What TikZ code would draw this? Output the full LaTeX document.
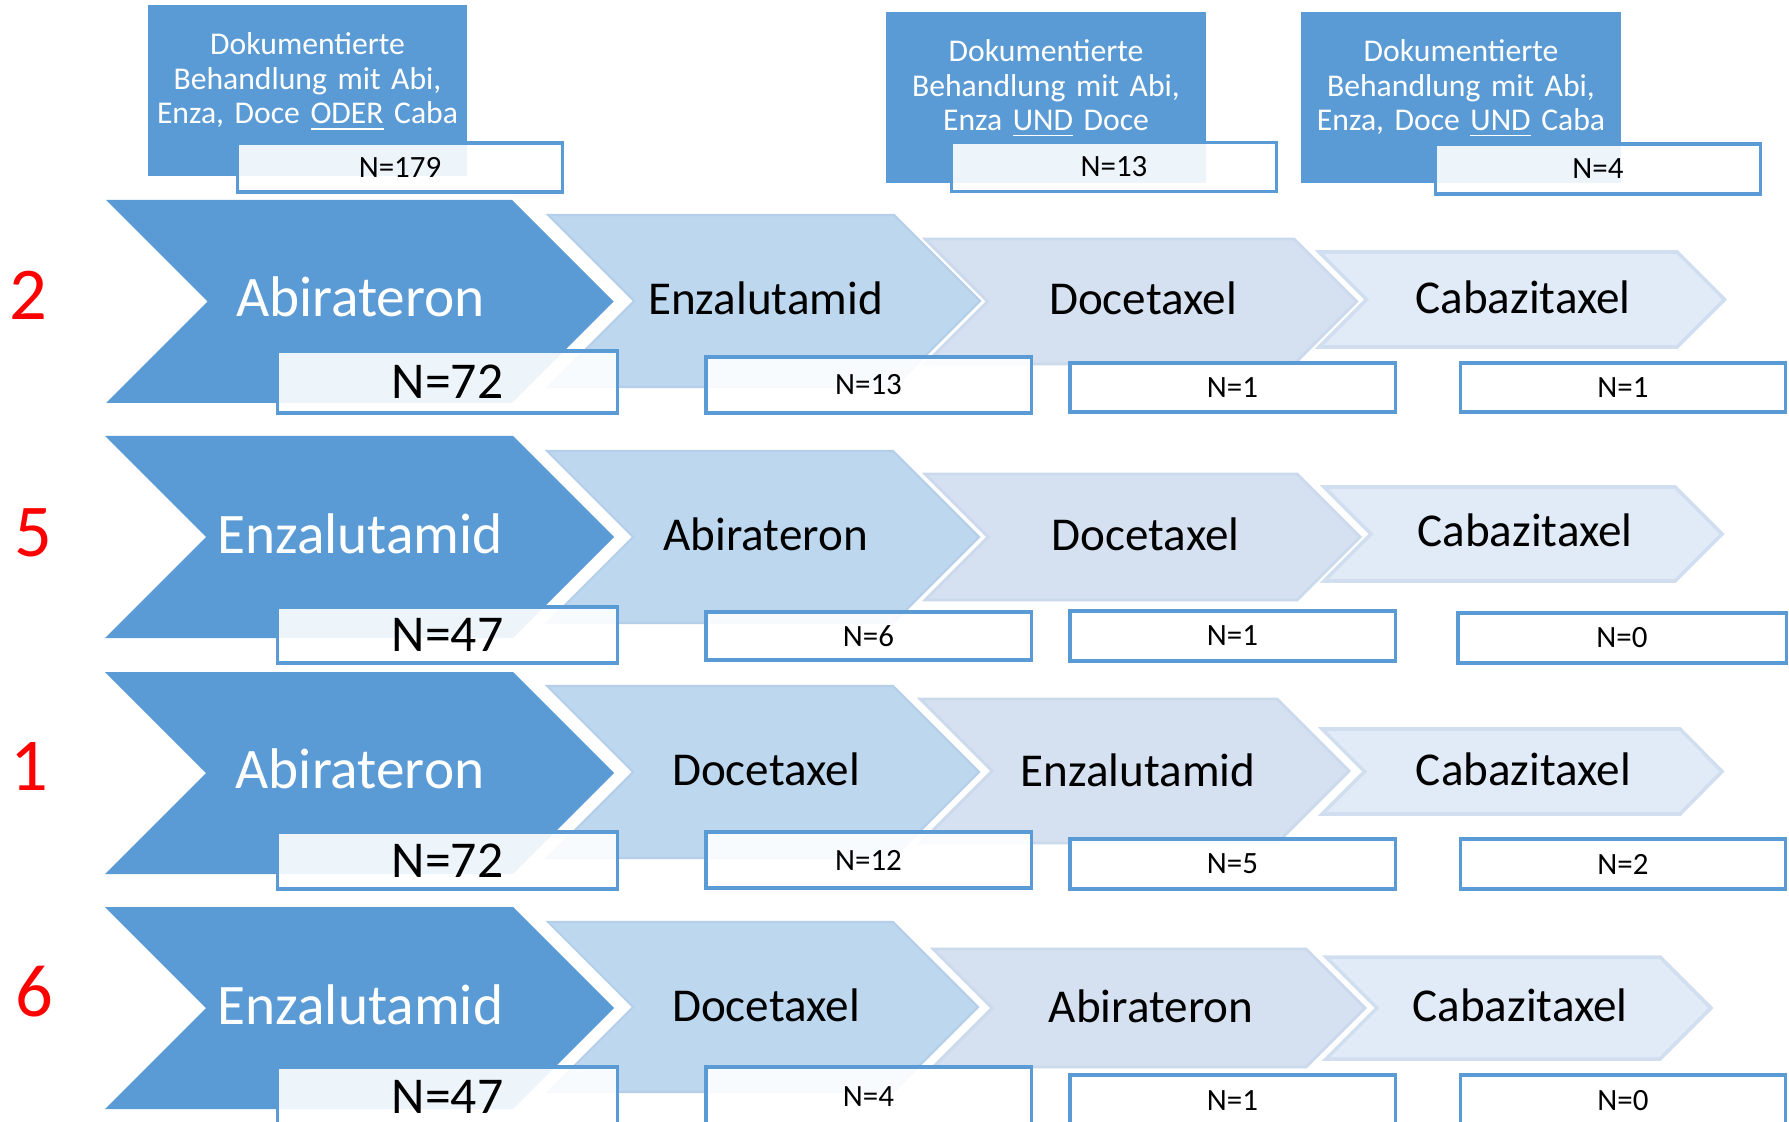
\documentclass[tikz,border=0pt]{standalone}
\usepackage{fontspec}
\setmainfont{Carlito}
\usepackage{xcolor}
\definecolor{dunkel}{HTML}{5B9BD5}
\definecolor{hellA}{HTML}{BDD7EE}
\definecolor{hellB}{HTML}{D5E1F0}
\definecolor{hellC}{HTML}{E1EBF7}
\definecolor{randA}{HTML}{B5CFEA}
\definecolor{randB}{HTML}{CBD9EC}
\definecolor{randC}{HTML}{D0DEF0}

\begin{document}
\begin{tikzpicture}[x=0.01cm,y=-0.01cm,
    chevA/.style={fill=dunkel},
    chevB/.style={fill=hellA,draw=randA,line width=0.6pt},
    chevC/.style={fill=hellB,draw=randB,line width=0.8pt},
    chevD/.style={fill=hellC,draw=randC,line width=1pt},
    ersttxt/.style={anchor=base,inner sep=0pt,text=white,font=\fontsize{16.3}{19}\selectfont},
    folgetxt/.style={anchor=base,inner sep=0pt,text=black,font=\fontsize{13.4}{16}\selectfont},
    nbox/.style={draw=dunkel,line width=0.9pt,fill=white,fill opacity=0.9,text opacity=1,inner sep=0pt},
    nbig/.style={nbox,minimum width=3.39cm,font=\fontsize{14.7}{17}\selectfont},
    nsmall/.style={nbox,minimum width=3.25cm,font=\fontsize{8.8}{10}\selectfont},
    infobox/.style={fill=dunkel,minimum width=3.19cm,minimum height=1.71cm,inner sep=0pt},
    infotxt/.style={anchor=base,inner sep=0pt,text=white,text width=3.19cm,align=center,font=\fontsize{9}{9.8}\selectfont},
    nummer/.style={anchor=base,inner sep=0pt,text=red,font=\fontsize{21.2}{24}\selectfont}]

    \useasboundingbox (0,0) rectangle (1789,1122);
    \clip (0,0) rectangle (1789,1122);

    % 上方的说明框
    \node[infobox] (info1) at (307.5,90.5) {};
    \node[infobox] (info2) at (1046,97.5) {};
    \node[infobox] (info3) at (1461,97.5) {};
    \node[infotxt] (info1t) at (307.5,55) {Dokumentierte\\Behandlung mit Abi,\\Enza, Doce \underline{ODER} Caba};
    \node[infotxt] (info2t) at (1046,61.7) {Dokumentierte\\Behandlung mit Abi,\\Enza \underline{UND} Doce};
    \node[infotxt] (info3t) at (1461,61.7) {Dokumentierte\\Behandlung mit Abi,\\Enza, Doce \underline{UND} Caba};
    \node[nsmall,minimum height=0.49cm] (ntop1) at (400,167.5) {N=179};
    \node[nsmall,minimum height=0.49cm] (ntop2) at (1114,167) {N=13};
    \node[nsmall,minimum height=0.50cm] (ntop3) at (1598,169) {N=4};

    % 第一行
    \path[chevA] (106,200) -- (512,200) -- (613.5,301.5) -- (512,403) -- (106,403) -- (207.5,301.5) -- cycle;
    \path[chevB] (548,215) -- (894,215) -- (980,301) -- (894,387) -- (548,387) -- (634,301) -- cycle;
    \path[chevC] (925,239) -- (1294,239) -- (1356.5,301.5) -- (1294,364) -- (925,364) -- (987.5,301.5) -- cycle;
    \path[chevD] (1319,252) -- (1677,252) -- (1724.5,299.5) -- (1677,347) -- (1319,347) -- (1366.5,299.5) -- cycle;
    \node[nummer] (z1) at (28.8,320) {2};
    \node[ersttxt] (r1a) at (360.5,317) {Abirateron};
    \node[folgetxt] (r1b) at (765.5,315) {Enzalutamid};
    \node[folgetxt] (r1c) at (1143,315) {Docetaxel};
    \node[folgetxt] (r1d) at (1523,313.3) {Cabazitaxel};
    \node[nbig,minimum height=0.62cm] (n1a) at (447.5,382) {N=72};
    \node[nsmall,minimum height=0.56cm] (n1b) at (868.5,385) {N=13};
    \node[nsmall,minimum height=0.49cm] (n1c) at (1232.5,387.5) {N=1};
    \node[nsmall,minimum height=0.49cm] (n1d) at (1623,387.5) {N=1};

    % 第二行
    \path[chevA] (105,436) -- (513,436) -- (614,537) -- (513,638) -- (105,638) -- (206,537) -- cycle;
    \path[chevB] (547,451) -- (893,451) -- (979,537) -- (893,623) -- (547,623) -- (633,537) -- cycle;
    \path[chevC] (925,474) -- (1297,474) -- (1360,537) -- (1297,600) -- (925,600) -- (988,537) -- cycle;
    \path[chevD] (1324,487) -- (1675,487) -- (1722,534) -- (1675,581) -- (1324,581) -- (1371,534) -- cycle;
    \node[nummer] (z2) at (33,556.7) {5};
    \node[ersttxt] (r2a) at (360,553.3) {Enzalutamid};
    \node[folgetxt] (r2b) at (765.5,550.7) {Abirateron};
    \node[folgetxt] (r2c) at (1145.5,550.7) {Docetaxel};
    \node[folgetxt] (r2d) at (1525,546.7) {Cabazitaxel};
    \node[nbig,minimum height=0.56cm] (n2a) at (447.5,635) {N=47};
    \node[nsmall,minimum height=0.48cm] (n2b) at (868.5,636) {N=6};
    \node[nsmall,minimum height=0.50cm] (n2c) at (1232.5,636) {N=1};
    \node[nsmall,minimum height=0.50cm,minimum width=3.28cm] (n2d) at (1622,638) {N=0};

    % 第三行
    \path[chevA] (105,672) -- (513,672) -- (614,773) -- (513,874) -- (105,874) -- (206,773) -- cycle;
    \path[chevB] (547,686) -- (893,686) -- (979,772) -- (893,858) -- (547,858) -- (633,772) -- cycle;
    \path[chevC] (920,699) -- (1277,699) -- (1349,771) -- (1277,843) -- (920,843) -- (992,771) -- cycle;
    \path[chevD] (1322,729) -- (1680,729) -- (1722,771.5) -- (1680,814) -- (1322,814) -- (1364.5,771.5) -- cycle;
    \node[nummer] (z3) at (29.5,790) {1};
    \node[ersttxt] (r3a) at (360,788.3) {Abirateron};
    \node[folgetxt] (r3b) at (766,785) {Docetaxel};
    \node[folgetxt] (r3c) at (1138,786.7) {Enzalutamid};
    \node[folgetxt] (r3d) at (1523.5,785) {Cabazitaxel};
    \node[nbig,minimum height=0.57cm] (n3a) at (447.5,860.5) {N=72};
    \node[nsmall,minimum height=0.56cm] (n3b) at (868.5,860) {N=12};
    \node[nsmall,minimum height=0.50cm] (n3c) at (1232.5,864) {N=5};
    \node[nsmall,minimum height=0.50cm] (n3d) at (1623,864) {N=2};

    % 第四行
    \path[chevA] (105,907) -- (513,907) -- (614,1008) -- (513,1109) -- (105,1109) -- (206,1008) -- cycle;
    \path[chevB] (548,922) -- (893,922) -- (978,1007) -- (893,1092) -- (548,1092) -- (633,1007) -- cycle;
    \path[chevC] (933,949) -- (1306,949) -- (1365,1008) -- (1306,1067) -- (933,1067) -- (992,1008) -- cycle;
    \path[chevD] (1326,957) -- (1660,957) -- (1711,1008) -- (1660,1059) -- (1326,1059) -- (1377,1008) -- cycle;
    \node[nummer] (z4) at (34,1016.7) {6};
    \node[ersttxt] (r4a) at (360.5,1024) {Enzalutamid};
    \node[folgetxt] (r4b) at (766,1021.7) {Docetaxel};
    \node[folgetxt] (r4c) at (1151,1022.7) {Abirateron};
    \node[folgetxt] (r4d) at (1520,1021.7) {Cabazitaxel};
    \node[nbig,minimum height=0.59cm] (n4a) at (447.5,1096.5) {N=47};
    \node[nsmall,minimum height=0.59cm] (n4b) at (868.5,1096.5) {N=4};
    \node[nsmall,minimum height=0.51cm] (n4c) at (1232.5,1100.5) {N=1};
    \node[nsmall,minimum height=0.51cm] (n4d) at (1623,1100.5) {N=0};

\end{tikzpicture}
\end{document}
